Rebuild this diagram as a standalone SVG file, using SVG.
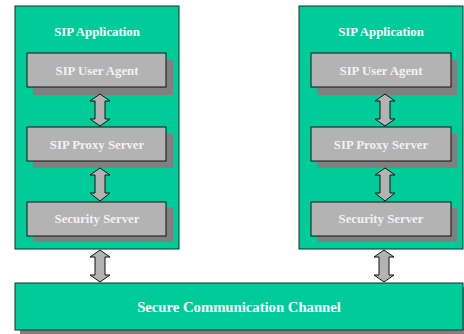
<svg xmlns="http://www.w3.org/2000/svg" width="464" height="334" viewBox="0 0 464 334">
  <defs>
    <style>
      .container { fill: #00cc99; stroke: #1b2b26; stroke-width: 1; }
      .box { fill: #b3b3b3; stroke: #111; stroke-width: 1; }
      .shadow { fill: #808080; }
      .title { font-family: "Liberation Serif", "Times New Roman", serif; font-weight: bold; font-size: 12.8px; fill: #ffffff; text-anchor: middle; }
      .label { font-family: "Liberation Serif", "Times New Roman", serif; font-weight: bold; font-size: 12.8px; fill: #f2f2f2; text-anchor: middle; }
      .channel-label { font-family: "Liberation Serif", "Times New Roman", serif; font-weight: bold; font-size: 14.7px; fill: #ffffff; text-anchor: middle; }
      .arrow { fill: #b3b3b3; stroke: #111; stroke-width: 1; stroke-linejoin: miter; }
    </style>
  </defs>

  <rect width="464" height="334" fill="#ffffff"/>

  <!-- Left SIP application stack -->
  <g id="left-app">
    <rect class="container" x="15" y="6" width="164" height="243"/>
    <text class="title" x="97" y="36">SIP Application</text>
  </g>
  <g id="left-ua">
    <rect class="shadow" x="33" y="60" width="140" height="35"/>
    <rect class="box" x="27" y="53" width="139" height="34"/>
    <text class="label" x="97" y="75">SIP User Agent</text>
  </g>
  <g id="left-proxy">
    <rect class="shadow" x="33" y="134" width="140" height="34"/>
    <rect class="box" x="27" y="127" width="139" height="34"/>
    <text class="label" x="97" y="149">SIP Proxy Server</text>
  </g>
  <g id="left-security">
    <rect class="shadow" x="33" y="208" width="140" height="34"/>
    <rect class="box" x="27" y="202" width="139" height="34"/>
    <text class="label" x="97" y="223">Security Server</text>
  </g>

  <!-- Right SIP application stack -->
  <g id="right-app">
    <rect class="container" x="299" y="6" width="164" height="243"/>
    <text class="title" x="381" y="36">SIP Application</text>
  </g>
  <g id="right-ua">
    <rect class="shadow" x="317" y="60" width="140" height="35"/>
    <rect class="box" x="311" y="53" width="140" height="34"/>
    <text class="label" x="381" y="75">SIP User Agent</text>
  </g>
  <g id="right-proxy">
    <rect class="shadow" x="317" y="134" width="140" height="34"/>
    <rect class="box" x="311" y="127" width="140" height="34"/>
    <text class="label" x="381" y="149">SIP Proxy Server</text>
  </g>
  <g id="right-security">
    <rect class="shadow" x="317" y="208" width="140" height="34"/>
    <rect class="box" x="311" y="202" width="140" height="34"/>
    <text class="label" x="381" y="223">Security Server</text>
  </g>

  <!-- Shared channel -->
  <g id="channel">
    <rect class="shadow" x="20" y="287" width="444" height="47"/>
    <rect class="container" x="15" y="283" width="448" height="47"/>
    <text class="channel-label" x="239" y="312">Secure Communication Channel</text>
  </g>

  <!-- Double-headed connectors -->
  <g id="connectors">
    <path class="arrow" d="M100,94 L110,101 L105,101 L105,119 L110,119 L100,126 L90,119 L95,119 L95,101 L90,101 Z"/>
    <path class="arrow" d="M100,168 L110,175 L105,175 L105,193 L110,193 L100,201 L90,193 L95,193 L95,175 L90,175 Z"/>
    <path class="arrow" d="M100,250 L110,257 L105,257 L105,275 L110,275 L100,282 L90,275 L95,275 L95,257 L90,257 Z"/>
    <path class="arrow" d="M385,94 L395,101 L390,101 L390,119 L395,119 L385,126 L375,119 L380,119 L380,101 L375,101 Z"/>
    <path class="arrow" d="M385,168 L395,175 L390,175 L390,193 L395,193 L385,201 L375,193 L380,193 L380,175 L375,175 Z"/>
    <path class="arrow" d="M384,250 L394,257 L389,257 L389,275 L394,275 L384,282 L374,275 L379,275 L379,257 L374,257 Z"/>
  </g>
</svg>
